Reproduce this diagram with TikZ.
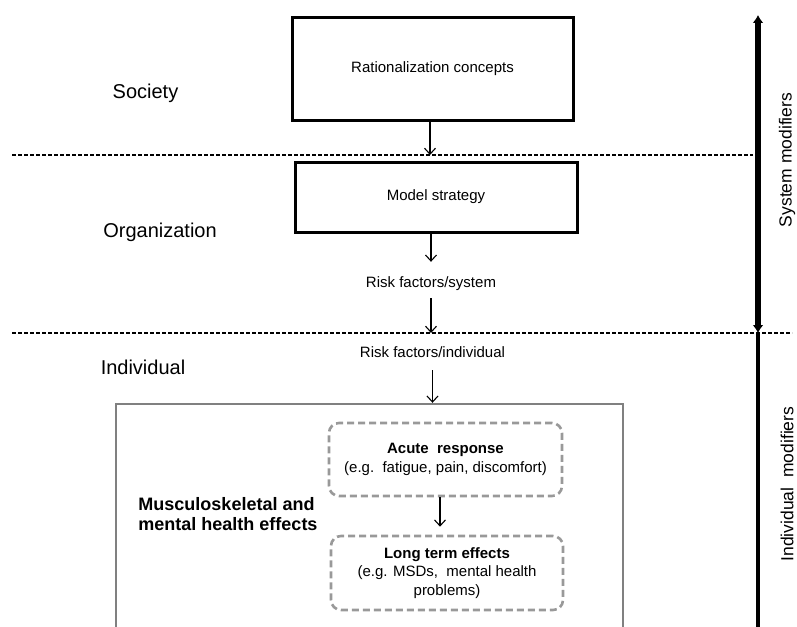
\documentclass[tikz,border=0pt]{standalone}
\usepackage{fontspec}
\setmainfont{Liberation Sans}
\usetikzlibrary{arrows.meta}

\tikzset{
  blackbox/.style={draw=black, line width=3pt, inner sep=0pt},
  graybox/.style={draw=black!50, line width=2.4pt, inner sep=0pt},
  effectbox/.style={draw=black!40, line width=2.6pt, dash pattern=on 7pt off 4pt,
    rounded corners=10pt, inner sep=0pt, align=center},
  levellabel/.style={font=\fontsize{20}{24}\selectfont},
  boxtext/.style={font=\fontsize{15}{19}\selectfont},
  flowlabel/.style={font=\fontsize{15}{19}\selectfont, text height=11pt, text depth=3pt, inner xsep=2pt},
  sidelabel/.style={font=\fontsize{17.5}{21}\selectfont, rotate=90, inner sep=0pt},
  flow/.style={line width=1.2pt, -{Straight Barb[length=6pt,width=11pt,line width=1.1pt]}},
  separator/.style={line width=1.2pt, dash pattern=on 4pt off 2pt},
}

\begin{document}
\begin{tikzpicture}[x=1pt, y=-1pt]
\useasboundingbox (0,0) rectangle (797,626);

% level labels
\node[levellabel] (society) at (145.5,93) {Society};
\node[levellabel] (organization) at (160,232) {Organization};
\node[levellabel] (individual) at (143,367) {Individual};

% level separators
\coordinate (sepAleft) at (12,155);
\coordinate (sepAright) at (753,155);
\coordinate (sepBleft) at (12,333);
\coordinate (sepBright) at (792,333);
\draw[separator] (sepAleft) -- (sepAright);
\draw[separator] (sepBleft) -- (sepBright);

% society and organization boxes
\node[blackbox, minimum width=281pt, minimum height=102pt, boxtext] (rational) at (432.5,69) {Rationalization concepts};
\node[blackbox, minimum width=282pt, minimum height=70pt, boxtext] (model) at (436,197) {Model strategy};

% risk factor labels
\node[flowlabel, inner ysep=8pt] (risksys) at (431,283) {Risk factors/system};
\node[flowlabel, inner ysep=10pt] (riskind) at (432.5,353) {Risk factors/individual};

% outcome area
\node[graybox, minimum width=507pt, minimum height=256pt] (effects) at (369.5,532) {};
\node[font=\bfseries\fontsize{18}{20}\selectfont, align=left] (msk) at (228,514) {Musculoskeletal and\\mental health effects};
\node[effectbox, minimum width=233pt, minimum height=73pt, boxtext] (acute) at (445.5,459.5)
  {\textbf{Acute\ \ response}\\(e.g.\ \ fatigue, pain, discomfort)};
\node[effectbox, minimum width=232pt, minimum height=74pt, font=\fontsize{15}{18.5}\selectfont] (longterm) at (447,573)
  {\textbf{Long term effects}\\(e.g. MSDs,\ \ mental health\\problems)};

% flow arrows
\coordinate (ratend) at (430,155);
\coordinate (sysend) at (431,333);
\coordinate (effx) at (440,0);
\draw[flow] (rational.south -| ratend) -- (ratend);
\draw[flow, shorten >=6pt] (model.south -| risksys) -- (risksys.north);
\draw[flow] (risksys.south) -- (sysend);
\draw[flow] (riskind.south) -- (riskind.south |- effects.north);
\draw[flow, shorten >=8pt] (acute.south -| effx) -- (longterm.north -| effx);

% modifier axis
\coordinate (axistop) at (758,15);
\coordinate (axismid) at (758,333);
\coordinate (axisbot) at (758,640);
\draw[line width=5.5pt, {Latex[length=8pt,width=11pt]}-{Latex[length=8pt,width=11pt]}] (axismid) -- (axistop);
\draw[line width=4pt] (axismid) -- (axisbot);
\node[sidelabel] (sysmod) at (787,160) {System modifiers};
\node[sidelabel] (indmod) at (787,484) {Individual\ \ modifiers};
\end{tikzpicture}
\end{document}
